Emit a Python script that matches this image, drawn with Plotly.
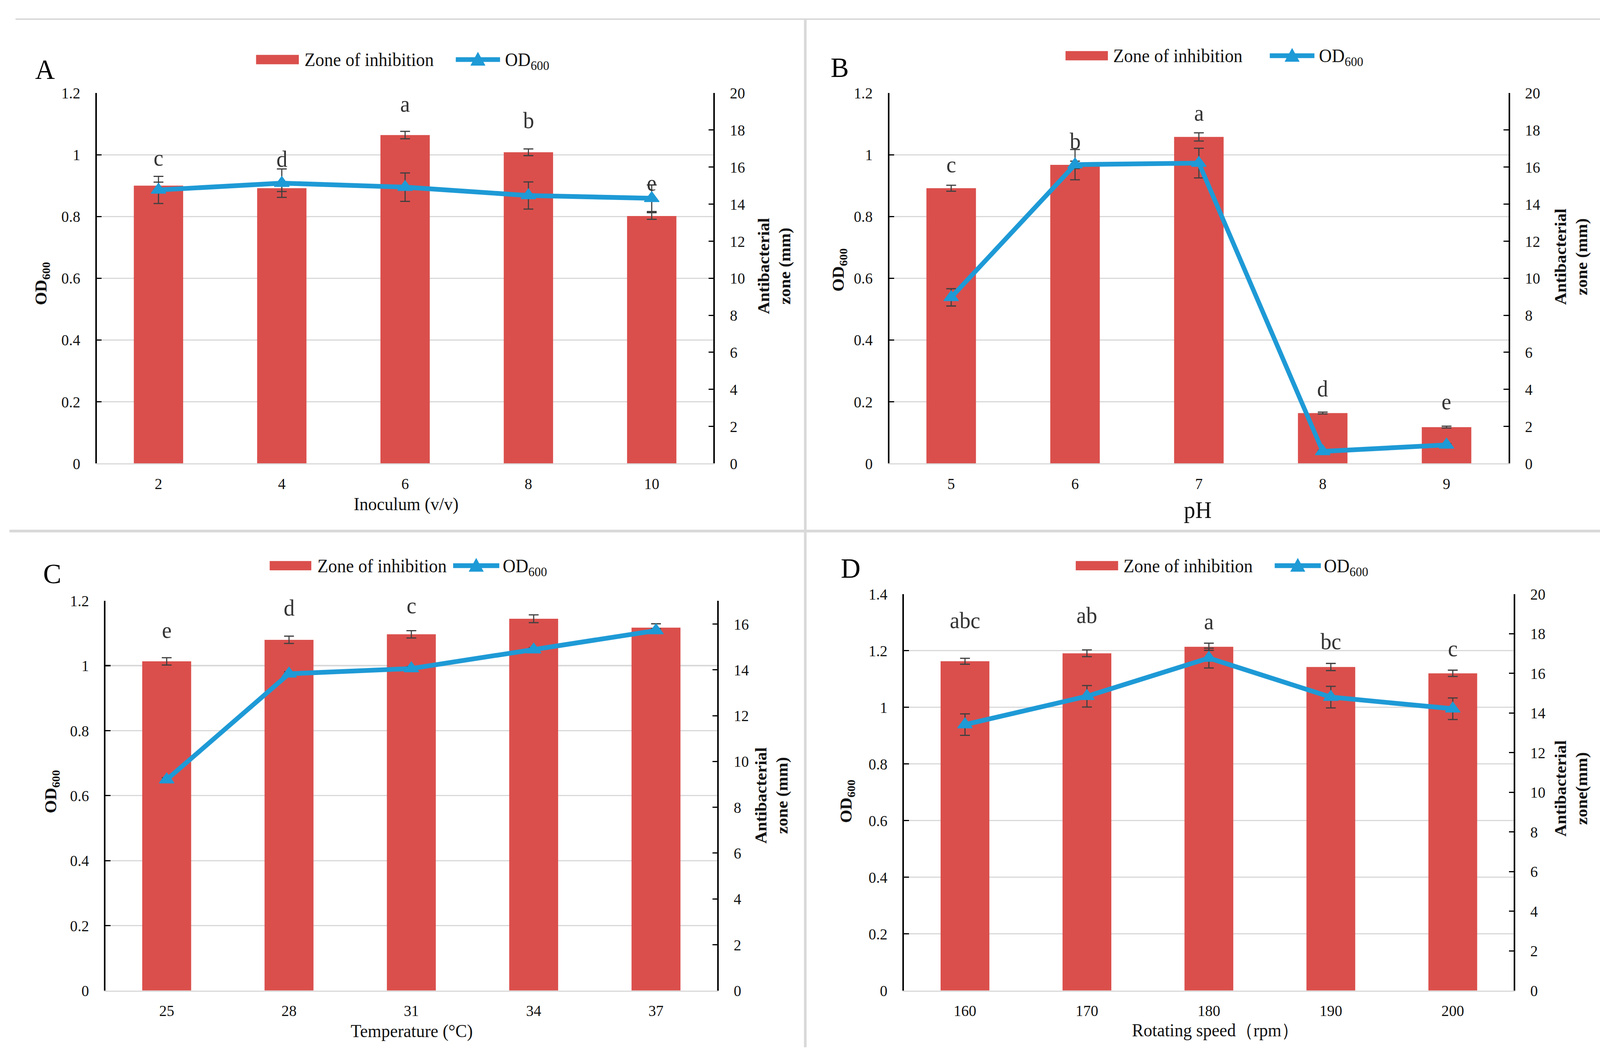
import plotly.graph_objects as go

W, H = 4230, 2688
FONT = "Liberation Serif, Times New Roman, serif"
RED = "#DA4F4C"
BLUE = "#1E9AD6"
ERR = "#404040"
GRID = "#D9D9D9"
TXT = "#111111"

# ---------------- data ----------------
cats_A = ["2", "4", "6", "8", "10"]
zone_A = [15.00, 14.86, 17.73, 16.80, 13.36]
zone_err_A = [0.19, 0.18, 0.20, 0.18, 0.18]
od_A = [0.886, 0.908, 0.895, 0.868, 0.859]
od_err_A = [0.044, 0.046, 0.046, 0.044, 0.043]
letters_A = ["c", "d", "a", "b", "e"]
letter_y_A = [0.990, 0.985, 1.165, 1.111, 0.909]

cats_B = ["5", "6", "7", "8", "9"]
zone_B = [14.86, 16.12, 17.63, 2.72, 1.96]
zone_err_B = [0.16, 0.20, 0.22, 0.05, 0.05]
od_B = [0.538, 0.968, 0.973, 0.039, 0.060]
od_err_B = [0.028, 0.049, 0.048, 0.004, 0.004]
letters_B = ["c", "b", "a", "d", "e"]
letter_y_B = [0.968, 1.044, 1.136, 0.242, 0.200]

cats_C = ["25", "28", "31", "34", "37"]
zone_C = [14.37, 15.31, 15.55, 16.23, 15.84]
zone_err_C = [0.16, 0.16, 0.16, 0.17, 0.17]
od_C = [0.649, 0.975, 0.991, 1.049, 1.108]
od_err_C = [0.006, 0.006, 0.006, 0.006, 0.006]
letters_C = ["e", "d", "c", "a", "b"]
letter_y_C = [1.110, 1.178, 1.185, 1.233, 1.219]

cats_D = ["160", "170", "180", "190", "200"]
zone_D = [16.61, 17.01, 17.34, 16.32, 16.00]
zone_err_D = [0.15, 0.17, 0.18, 0.18, 0.16]
od_D = [0.939, 1.039, 1.174, 1.036, 0.995]
od_err_D = [0.038, 0.038, 0.035, 0.038, 0.038]
letters_D = ["abc", "ab", "a", "bc", "c"]
letter_y_D = [1.307, 1.325, 1.302, 1.232, 1.207]

left_ticks_12 = [0, 0.2, 0.4, 0.6, 0.8, 1.0, 1.2]
left_labels_12 = ["0", "0.2", "0.4", "0.6", "0.8", "1", "1.2"]
left_ticks_14 = [0, 0.2, 0.4, 0.6, 0.8, 1.0, 1.2, 1.4]
left_labels_14 = ["0", "0.2", "0.4", "0.6", "0.8", "1", "1.2", "1.4"]
right_ticks_20 = [0, 2, 4, 6, 8, 10, 12, 14, 16, 18, 20]
right_ticks_16 = [0, 2, 4, 6, 8, 10, 12, 14, 16]

xtitles = ["Inoculum (v/v)", "pH", "Temperature (°C)", "Rotating speed（rpm）"]
rtitles = ["Antibacterial<br>zone (mm)", "Antibacterial<br>zone (mm)",
           "Antibacterial<br>zone (mm)", "Antibacterial<br>zone(mm)"]
panel_names = ["A", "B", "C", "D"]
legend_bar_name = "Zone of inhibition"
legend_line_name = "OD<sub>600</sub>"


def px(x):
    return x / W


def py(y):
    return 1 - y / H


panels = [
    dict(cats=cats_A, zone=zone_A, zerr=zone_err_A, od=od_A, oerr=od_err_A,
         let=letters_A, lety=letter_y_A, lmax=1.2, ltv=left_ticks_12, ltt=left_labels_12,
         rmax=20, rtv=right_ticks_20,
         box=(256, 1886, 233, 1186), leg=(677, 790, 147, 803, 1205, 1322, 1333),
         lab=(119, 172), xt=(1073, 1290, 46), ylt=(112, 723), yrt=(2047, 678)),
    dict(cats=cats_B, zone=zone_B, zerr=zone_err_B, od=od_B, oerr=od_err_B,
         let=letters_B, lety=letter_y_B, lmax=1.2, ltv=left_ticks_12, ltt=left_labels_12,
         rmax=20, rtv=right_ticks_20,
         box=(2351, 3988, 233, 1186), leg=(2817, 2929, 137, 2941, 3357, 3475, 3485),
         lab=(2220, 167), xt=(3166, 1306, 60), ylt=(2220, 688), yrt=(4154, 654)),
    dict(cats=cats_C, zone=zone_C, zerr=zone_err_C, od=od_C, oerr=od_err_C,
         let=letters_C, lety=letter_y_C, lmax=1.2, ltv=left_ticks_12, ltt=left_labels_12,
         rmax=17.02, rtv=right_ticks_16,
         box=(279, 1896, 1539, 2542), leg=(713, 823, 1449, 837, 1198, 1320, 1327),
         lab=(138, 1470), xt=(1088, 2646, 46), ylt=(138, 2030), yrt=(2040, 2040)),
    dict(cats=cats_D, zone=zone_D, zerr=zone_err_D, od=od_D, oerr=od_err_D,
         let=letters_D, lety=letter_y_D, lmax=1.4, ltv=left_ticks_14, ltt=left_labels_14,
         rmax=20, rtv=right_ticks_20,
         box=(2390, 4002, 1522, 2542), leg=(2844, 2956, 1449, 2968, 3370, 3492, 3498),
         lab=(2249, 1455), xt=(3213, 2644, 46), ylt=(2240, 2055), yrt=(4154, 2022)),
]

fig = go.Figure()
layout = {}
annotations = []
shapes = []

tickfont = dict(family=FONT, size=40, color=TXT)

for i, p in enumerate(panels):
    xa = "x" if i == 0 else f"x{i+1}"
    yb = "y" if i == 0 else f"y{2*i+1}"
    yl = f"y{2*i+2}"
    xkey = "xaxis" if i == 0 else f"xaxis{i+1}"
    ybkey = "yaxis" if i == 0 else f"yaxis{2*i+1}"
    ylkey = f"yaxis{2*i+2}"
    x0, x1, y0, y1 = p["box"]
    n = len(p["cats"])

    fig.add_trace(go.Bar(
        x=p["cats"], y=p["zone"], name=legend_bar_name, showlegend=False,
        marker=dict(color=RED, line=dict(width=0)),
        error_y=dict(type="data", array=p["zerr"], color=ERR, thickness=3, width=13),
        xaxis=xa, yaxis=yb))
    fig.add_trace(go.Scatter(
        x=p["cats"], y=p["od"], name="OD600", showlegend=False,
        mode="lines+markers",
        line=dict(color=BLUE, width=12),
        marker=dict(symbol="triangle-up", size=34, color=BLUE,
                    line=dict(color=BLUE, width=2)),
        error_y=dict(type="data", array=p["oerr"], color=ERR, thickness=3, width=13),
        xaxis=xa, yaxis=yl))

    layout[xkey] = dict(domain=[px(x0), px(x1)], anchor=yb, type="category",
                        categoryorder="array", categoryarray=p["cats"],
                        range=[-0.5, n - 0.5], autorange=False,
                        showline=True, linecolor=GRID, linewidth=3, ticks="",
                        showgrid=False, zeroline=False, tickfont=tickfont,
                        ticklabelstandoff=14)
    layout[ybkey] = dict(domain=[py(y1), py(y0)], anchor=xa, side="right",
                         range=[0, p["rmax"]], autorange=False,
                         tickmode="array", tickvals=p["rtv"],
                         ticktext=[str(v) for v in p["rtv"]],
                         showline=True, linecolor="black", linewidth=3.5,
                         ticks="inside", ticklen=13, tickwidth=3, tickcolor="black",
                         showgrid=False, zeroline=False, tickfont=tickfont,
                         ticklabelstandoff=32)
    layout[ylkey] = dict(overlaying=yb, anchor=xa, side="left",
                         range=[0, p["lmax"]], autorange=False,
                         tickmode="array", tickvals=p["ltv"],
                         ticktext=p["ltt"],
                         showline=True, linecolor="black", linewidth=3.5,
                         ticks="inside", ticklen=13, tickwidth=3, tickcolor="black",
                         showgrid=True, gridcolor=GRID, gridwidth=3,
                         zeroline=False, tickfont=tickfont, ticklabelstandoff=32)

    # significance letters (x given as category index)
    for j, (t, yy) in enumerate(zip(p["let"], p["lety"])):
        annotations.append(dict(x=j, y=yy, xref=xa, yref=yl, text=t, showarrow=False,
                                xanchor="center", yanchor="middle",
                                font=dict(family=FONT, size=58, color="#333333")))

    # panel label
    lx, ly = p["lab"]
    annotations.append(dict(x=px(lx), y=py(ly), xref="paper", yref="paper",
                            text=panel_names[i], showarrow=False,
                            xanchor="center", yanchor="middle",
                            font=dict(family=FONT, size=72, color="black")))
    # x title
    tx, ty, ts = p["xt"]
    annotations.append(dict(x=px(tx), y=py(ty), xref="paper", yref="paper",
                            text=xtitles[i], showarrow=False,
                            xanchor="center", yanchor="middle",
                            font=dict(family=FONT, size=ts, color=TXT)))
    # left y title
    ax_, ay_ = p["ylt"]
    annotations.append(dict(x=px(ax_), y=py(ay_), xref="paper", yref="paper",
                            text="<b>OD<sub>600</sub></b>", showarrow=False, textangle=-90,
                            xanchor="center", yanchor="middle",
                            font=dict(family=FONT, size=43, color=TXT)))
    # right y title
    rx, ry = p["yrt"]
    annotations.append(dict(x=px(rx), y=py(ry), xref="paper", yref="paper",
                            text="<b>" + rtitles[i].replace("<br>", "</b><br><b>") + "</b>",
                            showarrow=False, textangle=-90,
                            xanchor="center", yanchor="middle",
                            font=dict(family=FONT, size=43, color=TXT)))

    # legend drawn by hand (wide swatches as in the original)
    r0, r1, cy, t1x, l0, l1, t2x = p["leg"]
    shapes.append(dict(type="rect", xref="paper", yref="paper",
                       x0=px(r0), x1=px(r1), y0=py(cy + 12), y1=py(cy - 12),
                       fillcolor=RED, line=dict(width=0)))
    annotations.append(dict(x=px(t1x), y=py(cy), xref="paper", yref="paper",
                            text=legend_bar_name, showarrow=False,
                            xanchor="left", yanchor="middle",
                            font=dict(family=FONT, size=47, color=TXT)))
    shapes.append(dict(type="line", xref="paper", yref="paper",
                       x0=px(l0), x1=px(l1), y0=py(cy), y1=py(cy),
                       line=dict(color=BLUE, width=12)))
    mx = (l0 + l1) / 2
    path = (f"M {px(mx-19)},{py(cy+15)} L {px(mx+19)},{py(cy+15)} "
            f"L {px(mx)},{py(cy-19)} Z")
    shapes.append(dict(type="path", xref="paper", yref="paper", path=path,
                       fillcolor=BLUE, line=dict(color=BLUE, width=1)))
    annotations.append(dict(x=px(t2x), y=py(cy + 4), xref="paper", yref="paper",
                            text=legend_line_name, showarrow=False,
                            xanchor="left", yanchor="middle",
                            font=dict(family=FONT, size=47, color=TXT)))

# panel dividers
shapes.append(dict(type="line", xref="paper", yref="paper",
                   x0=px(41), x1=1, y0=py(43), y1=py(43),
                   line=dict(color=GRID, width=4)))
shapes.append(dict(type="line", xref="paper", yref="paper",
                   x0=px(25), x1=1, y0=py(1360), y1=py(1360),
                   line=dict(color=GRID, width=7)))
shapes.append(dict(type="line", xref="paper", yref="paper",
                   x0=px(2129), x1=px(2129), y0=py(43), y1=0,
                   line=dict(color=GRID, width=7)))

fig.update_layout(
    width=W, height=H,
    margin=dict(l=0, r=0, t=0, b=0),
    paper_bgcolor="white", plot_bgcolor="rgba(0,0,0,0)",
    bargap=0.6, showlegend=False,
    annotations=annotations, shapes=shapes,
    font=dict(family=FONT, color=TXT),
    **layout,
)

# fit the fixed-size figure into the page's viewport
post = (
    "document.documentElement.style.margin='0';"
    "document.body.style.margin='0';"
    "document.body.style.overflow='hidden';"
    "document.documentElement.style.overflow='hidden';"
    "var gd=document.getElementById('{plot_id}');"
    "var sx=window.innerWidth/%d, sy=window.innerHeight/%d;"
    "var ky=sy*1.012;"
    "gd.style.transformOrigin='0 0';"
    "gd.style.transform='translate(0px,'+(-16*sy)+'px) scale('+sx+','+ky+')';" % (W, H)
)

fig.write_html("out.html", post_script=post, config={"displayModeBar": False})
